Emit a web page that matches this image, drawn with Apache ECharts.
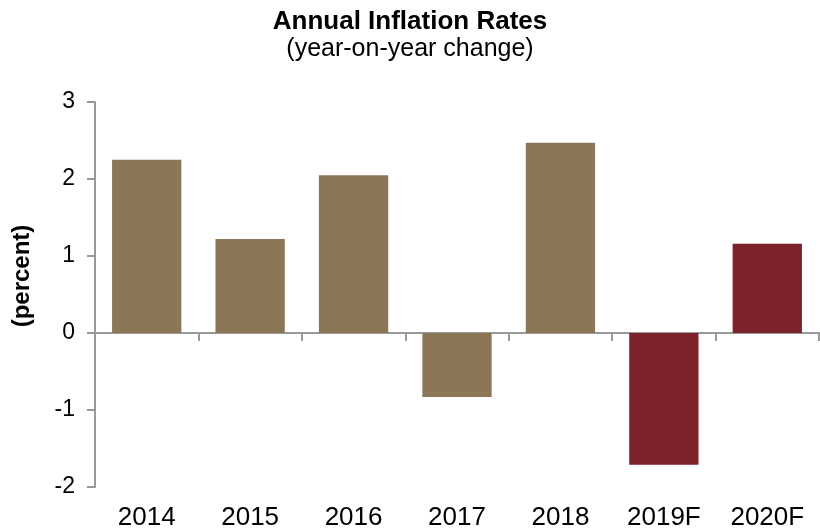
<!DOCTYPE html>
<html>
<head>
<meta charset="utf-8">
<script src="https://cdn.jsdelivr.net/npm/echarts@6/dist/echarts.min.js"></script>
<style>
  html, body { margin: 0; padding: 0; background: #fff; }
  #chart { width: 820px; height: 531px; }
</style>
</head>
<body>
<div id="chart"></div>
<script>
const years = ['2014', '2015', '2016', '2017', '2018', '2019F', '2020F']
const rates = [2.25, 1.22, 2.05, -0.83, 2.47, -1.71, 1.16]
const forecast = [false, false, false, false, false, true, true]
const yTicks = [-2, -1, 0, 1, 2, 3]

const chart = echarts.init(document.getElementById('chart'))
const font = 'Liberation Sans, Arial, sans-serif'

chart.setOption({
  animation: false,
  textStyle: { fontFamily: font },
  title: {
    text: 'Annual Inflation Rates',
    subtext: '(year-on-year change)',
    left: 'center', top: 4, itemGap: 2,
    textStyle: { fontFamily: font, fontSize: 26, fontWeight: 'bold', color: '#000' },
    subtextStyle: { fontFamily: font, fontSize: 25, color: '#000' }
  },
  graphic: [{
    type: 'text', x: 22, y: 276, rotation: Math.PI / 2,
    style: { text: '(percent)', fontFamily: font, fontSize: 24, fontWeight: 'bold',
      fill: '#000', align: 'center', verticalAlign: 'middle' }
  }],
  grid: { left: 95, right: 1, top: 102, bottom: 44 },
  xAxis: [
    { type: 'category', data: years,
      axisLine: { onZero: true, lineStyle: { color: '#999', width: 2 } },
      axisTick: { show: true, length: 8, lineStyle: { color: '#999', width: 2 } },
      axisLabel: { show: false } },
    { type: 'category', data: years, position: 'bottom',
      axisLine: { show: false }, axisTick: { show: false },
      axisLabel: { color: '#000', fontSize: 26, margin: 18 } }
  ],
  yAxis: {
    type: 'value', min: yTicks[0], max: yTicks[yTicks.length - 1], interval: 1,
    axisLine: { show: true, lineStyle: { color: '#999', width: 2 } },
    axisTick: { show: true, length: 8, lineStyle: { color: '#999', width: 2 } },
    axisLabel: { color: '#000', fontSize: 23, margin: 20 },
    splitLine: { show: false }
  },
  series: [{
    type: 'bar', xAxisIndex: 0, barCategoryGap: '33%',
    data: rates.map((v, i) => ({ value: v, itemStyle: { color: forecast[i] ? '#7D222B' : '#8B7757' } }))
  }]
})
</script>
</body>
</html>
